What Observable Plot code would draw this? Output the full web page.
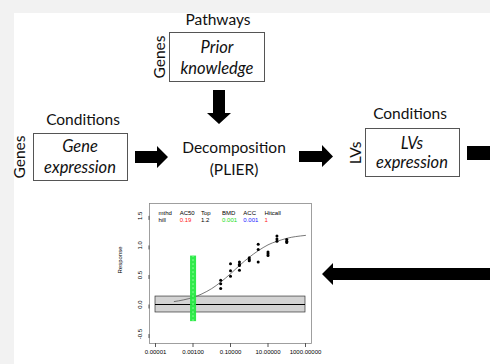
<!DOCTYPE html>
<html>
<head>
<meta charset="utf-8">
<script src="https://cdn.jsdelivr.net/npm/d3@7"></script>
<script src="https://cdn.jsdelivr.net/npm/@observablehq/plot@0.6"></script>
<style>
  html, body { margin: 0; padding: 0; }
  body { width: 490px; height: 364px; background: #f2f2f2; position: relative; overflow: hidden; font-family: Lato, "Open Sans", sans-serif; color: #111; }
  #panel { position: absolute; left: 14px; top: 13px; right: 0; bottom: 0; background: #fff; }
  .t { position: absolute; transform: translate(-50%, -50%); white-space: nowrap; font-size: 15.5px; line-height: 1; }
  .r { transform: translate(-50%, -50%) rotate(-90deg); }
  .i { font-style: italic; font-size: 16.5px; }
  .box { position: absolute; border: 1px solid #555; box-sizing: border-box; background: #fff; }
  #arrows { position: absolute; left: 0; top: 0; }
  #chart { position: absolute; left: 110px; top: 196px; }
</style>
</head>
<body>
<div id="panel"></div>
<div class="box" style="left:169px;top:32px;width:96px;height:50px"></div>
<div class="box" style="left:33px;top:133px;width:95px;height:48px"></div>
<div class="box" style="left:365px;top:128px;width:95px;height:49px"></div>
<div class="t" style="left:218px;top:20px">Pathways</div>
<div class="t r" style="left:160px;top:57px">Genes</div>
<div class="t i" style="left:217px;top:47px">Prior</div>
<div class="t i" style="left:217px;top:68px">knowledge</div>
<div class="t" style="left:83px;top:120px">Conditions</div>
<div class="t r" style="left:20px;top:157px">Genes</div>
<div class="t i" style="left:80px;top:146px">Gene</div>
<div class="t i" style="left:80px;top:167px">expression</div>
<div class="t" style="left:234px;top:148px">Decomposition</div>
<div class="t" style="left:234px;top:170px">(PLIER)</div>
<div class="t r" style="left:356px;top:153px">LVs</div>
<div class="t" style="left:410px;top:114px">Conditions</div>
<div class="t i" style="left:412px;top:143px">LVs</div>
<div class="t i" style="left:412px;top:162px">expression</div>
<svg id="arrows" width="490" height="364">
  <polygon points="213,90 225,90 225,113 231,113 219,124 207,113 213,113" fill="#000"/>
  <polygon points="135,151 157,151 157,146 168,157 157,168 157,163 135,163" fill="#000"/>
  <polygon points="299,151 322,151 322,145 333,156.5 322,167 322,162 299,162" fill="#000"/>
  <polygon points="467,146 490,146 490,160 467,160" fill="#000"/>
  <polygon points="490,268 333,268 333,263 322,274 333,285 333,280 490,280" fill="#000"/>
</svg>
<div id="chart"></div>
<script>
// Observed dose-response points
const doseConc = [0.03,0.03,0.03, 0.1,0.1,0.1, 0.3,0.3,0.3,0.3, 1,1,1, 3,3,3, 10,10,10, 30,30,30, 100,100,100];
const doseResp = [0.41,0.35,0.27, 0.69,0.57,0.48, 0.72,0.68,0.66,0.58, 0.79,0.76,0.74, 1.02,0.93,0.72, 0.89,0.86,0.83, 1.16,1.11,1.07, 1.10,1.07,1.05];
// Fitted hill curve
const curveConc = [1e-4, 3e-4, 1e-3, 3e-3, 1e-2, 3e-2, 0.1, 0.3, 1, 3, 10, 30, 100, 300, 1000];
const curveResp = [0.05, 0.077, 0.12, 0.18, 0.27, 0.38, 0.52, 0.66, 0.80, 0.91, 1.01, 1.07, 1.12, 1.15, 1.17];
// Cutoff band and BMD interval
const bandX = [1e-5, 1000];
const bandY = [-0.135, 0.135];
const bmdX = [0.00074, 0.00155];
const bmdY = [-0.29, 0.82];
const bmdValue = 0.001;
// Axis ticks
const xTicks = [1e-5, 1e-3, 1e-1, 10, 1000];
const xTickLabels = ["0.00001", "0.00100", "0.10000", "10.00000", "1000.00000"];
const yTicks = [-0.5, 0, 0.5, 1.0, 1.5];
const yTickLabels = ["-0.5", "0.0", "0.5", "1.0", "1.5"];
// Header summary
const headerLabels = ["mthd", "AC50", "Top", "BMD", "ACC", "Hitcall"];
const headerValues = ["hill", "0.19", "1.2", "0.001", "0.001", "1"];
const headerColors = ["#000", "#ff2020", "#000", "#22dd22", "#2020ff", "#ff2020"];

const points = doseConc.map((c, i) => ({conc: c, resp: doseResp[i]}));
const curve = curveConc.map((c, i) => ({conc: c, resp: curveResp[i]}));

const headerMarks = headerLabels.flatMap((lab, i) => [
  Plot.text([lab], {frameAnchor: "top-left", dx: 9 + 21.2 * i, dy: 7, textAnchor: "start", fill: "#000"}),
  Plot.text([headerValues[i]], {frameAnchor: "top-left", dx: 9 + 21.2 * i, dy: 14, textAnchor: "start", fill: headerColors[i]})
]);

const chart = Plot.plot({
  width: 220,
  height: 168,
  marginLeft: 39,
  marginRight: 19,
  marginTop: 7,
  marginBottom: 21,
  style: {fontFamily: "'Liberation Sans', Arial, sans-serif", fontSize: "6px", background: "transparent", color: "#000", overflow: "visible"},
  x: {type: "log", domain: [Math.pow(10, -5.32), Math.pow(10, 3.32)]},
  y: {domain: [-0.66, 1.71]},
  marks: [
    Plot.rect([{x1: bandX[0], x2: bandX[1], y1: bandY[0], y2: bandY[1]}], {x1: "x1", x2: "x2", y1: "y1", y2: "y2", fill: "#d3d3d3", stroke: "#333", strokeWidth: 0.7}),
    Plot.ruleY([{y: 0, x1: bandX[0], x2: bandX[1]}], {y: "y", x1: "x1", x2: "x2", stroke: "#000", strokeWidth: 1}),
    Plot.line(curve, {x: "conc", y: "resp", curve: "natural", stroke: "#555", strokeWidth: 0.8}),
    Plot.rect([{x1: bmdX[0], x2: bmdX[1], y1: bmdY[0], y2: bmdY[1]}], {x1: "x1", x2: "x2", y1: "y1", y2: "y2", fill: "#1ee83c", fillOpacity: 0.92}),
    Plot.ruleX([{x: bmdValue, y1: bmdY[0], y2: bmdY[1]}], {x: "x", y1: "y1", y2: "y2", stroke: "#8dff9d", strokeWidth: 1, strokeDasharray: "2,2"}),
    Plot.dot(points, {x: "conc", y: "resp", r: 1.5, fill: "#000", stroke: "none"}),
    Plot.frame({stroke: "#888", strokeWidth: 0.8}),
    Plot.axisX({ticks: xTicks, tickSize: 4, tickPadding: 2, label: null, tickFormat: d => xTickLabels[xTicks.indexOf(d)], fontSize: 6, stroke: "#555"}),
    Plot.axisY({ticks: yTicks, tickSize: 4, tickPadding: 4, label: null, tickFormat: d => yTickLabels[yTicks.indexOf(d)], rotate: -90, textAnchor: "middle", lineAnchor: "bottom", fontSize: 6, stroke: "#555"}),
    Plot.text(["Response"], {frameAnchor: "left", dx: -29, rotate: -90, fontSize: 6}),
    ...headerMarks
  ]
});
document.getElementById("chart").appendChild(chart);
</script>
</body>
</html>
